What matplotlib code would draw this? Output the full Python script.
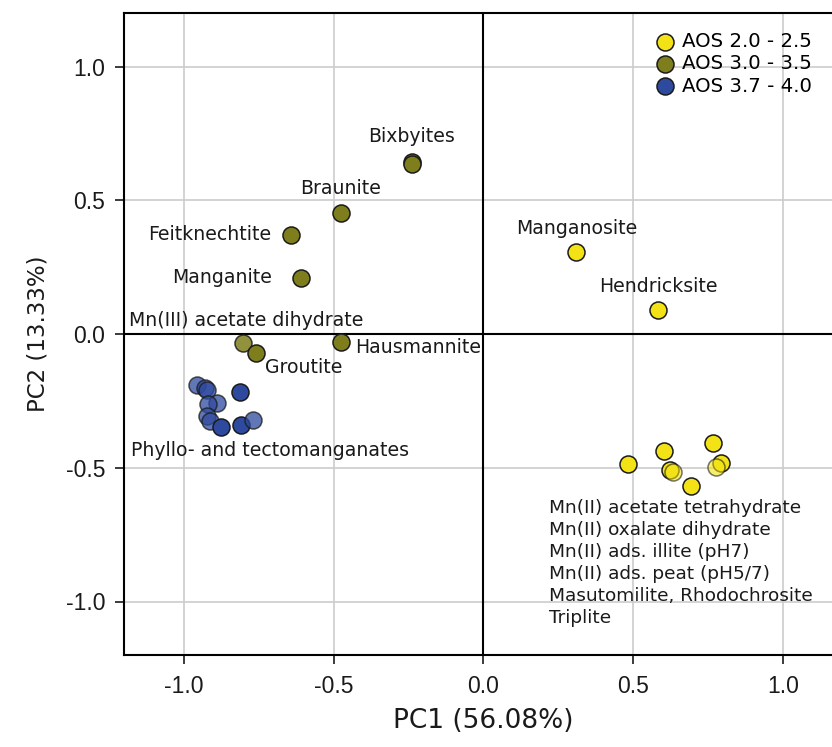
import numpy as np
import matplotlib.pyplot as plt

plt.rcParams['font.family'] = ['DejaVu Sans']

# PCA scores, grouped by average oxidation state
aos_low_pc1 = [0.310, 0.583, 0.483, 0.604, 0.623, 0.632, 0.691, 0.766, 0.792, 0.777]
aos_low_pc2 = [0.307, 0.090, -0.487, -0.438, -0.507, -0.516, -0.570, -0.406, -0.482, -0.498]

aos_mid_pc1 = [-0.240, -0.240, -0.477, -0.643, -0.610, -0.804, -0.760, -0.477]
aos_mid_pc2 = [0.644, 0.637, 0.453, 0.371, 0.210, -0.032, -0.070, -0.029]

aos_high_pc1 = [-0.957, -0.930, -0.924, -0.888, -0.921, -0.923, -0.912, -0.877, -0.812, -0.810, -0.768]
aos_high_pc2 = [-0.192, -0.201, -0.210, -0.257, -0.260, -0.307, -0.326, -0.347, -0.217, -0.341, -0.323]

group_names = ['AOS 2.0 - 2.5', 'AOS 3.0 - 3.5', 'AOS 3.7 - 4.0']

# opacity of each marker (some spectra are drawn semi-transparent)
low_alpha = [1, 1, 1, 1, 1, 0.6, 1, 1, 1, 0.6]
mid_alpha = [1, 1, 1, 1, 1, 0.85, 1, 1]
high_alpha = [0.75, 0.75, 0.75, 0.75, 0.75, 0.75, 0.75, 1, 1, 1, 0.75]

# sample labels: text, x, y, horizontal alignment
labels = [
    ('Bixbyites', -0.24, 0.738, 'center'),
    ('Braunite', -0.477, 0.543, 'center'),
    ('Feitknechtite', -0.707, 0.371, 'right'),
    ('Manganite', -0.707, 0.213, 'right'),
    ('Mn(III) acetate dihydrate', -1.183, 0.052, 'left'),
    ('Groutite', -0.73, -0.127, 'left'),
    ('Hausmannite', -0.43, -0.049, 'left'),
    ('Phyllo- and tectomanganates', -1.177, -0.434, 'left'),
    ('Manganosite', 0.31, 0.393, 'center'),
    ('Hendricksite', 0.583, 0.176, 'center'),
]
mn2_block = ['Mn(II) acetate tetrahydrate', 'Mn(II) oxalate dihydrate',
             'Mn(II) ads. illite (pH7)', 'Mn(II) ads. peat (pH5/7)',
             'Masutomilite, Rhodochrosite', 'Triplite']

colors = ['#F2E216', '#7E7E1C', '#2E4A9E']
text_color = '#1a1a1a'

fig = plt.figure(figsize=(8.32, 7.47), dpi=100)
ax = fig.add_axes([124 / 832, 92 / 747, 719 / 832, 642 / 747])

ax.set_xlim(-1.2, 1.2)
ax.set_ylim(-1.2, 1.2)
ticks = [-1.0, -0.5, 0.0, 0.5, 1.0]
ax.set_xticks(ticks)
ax.set_yticks(ticks)
ax.set_xticklabels([f'{t:.1f}' for t in ticks], family='Liberation Sans', fontsize=16.5)
ax.set_yticklabels([f'{t:.1f}' for t in ticks], family='Liberation Sans', fontsize=16.5)
ax.tick_params(length=6.5, width=1.2, colors=text_color)
ax.tick_params(axis='x', pad=8)
ax.tick_params(axis='y', pad=7)
for t in [-1.0, -0.5, 0.5, 1.0]:
    ax.axvline(t, color='#cccccc', lw=1.2, zorder=0)
    ax.axhline(t, color='#cccccc', lw=1.2, zorder=0)
ax.axvline(0, color='black', lw=1.5, zorder=1)
ax.axhline(0, color='black', lw=1.5, zorder=1)
for sp in ax.spines.values():
    sp.set_linewidth(1.5)

groups = [(aos_low_pc1, aos_low_pc2, low_alpha),
          (aos_mid_pc1, aos_mid_pc2, mid_alpha),
          (aos_high_pc1, aos_high_pc2, high_alpha)]
for (xs, ys, al), c, name in zip(groups, colors, group_names):
    for i, (x, y, a) in enumerate(zip(xs, ys, al)):
        ax.scatter(x, y, s=150, color=c, edgecolor='#1a1a1a', linewidth=1.1,
                   alpha=a, zorder=3, label=name if i == 0 else None)

for text, x, y, ha in labels:
    ax.text(x, y, text, ha=ha, va='center', fontsize=13.6, color=text_color)
ax.text(0.22, -0.618, '\n'.join(mn2_block), ha='left', va='top',
        fontsize=13.3, color=text_color, linespacing=1.28)

ax.set_xlabel('PC1 (56.08%)', fontsize=19, labelpad=7, color=text_color)
ax.set_ylabel('PC2 (13.33%)', fontsize=16.5, labelpad=12, color=text_color)

leg = ax.legend(loc='upper left', bbox_to_anchor=(644 / 832, 1 - 24 / 747),
                bbox_transform=fig.transFigure, frameon=False, fontsize=14.2,
                handletextpad=0.25, labelspacing=0.17, borderaxespad=0,
                handlelength=1.3)
for h in leg.legend_handles:
    h.set_alpha(1)

fig.savefig('out.png', dpi=100)
